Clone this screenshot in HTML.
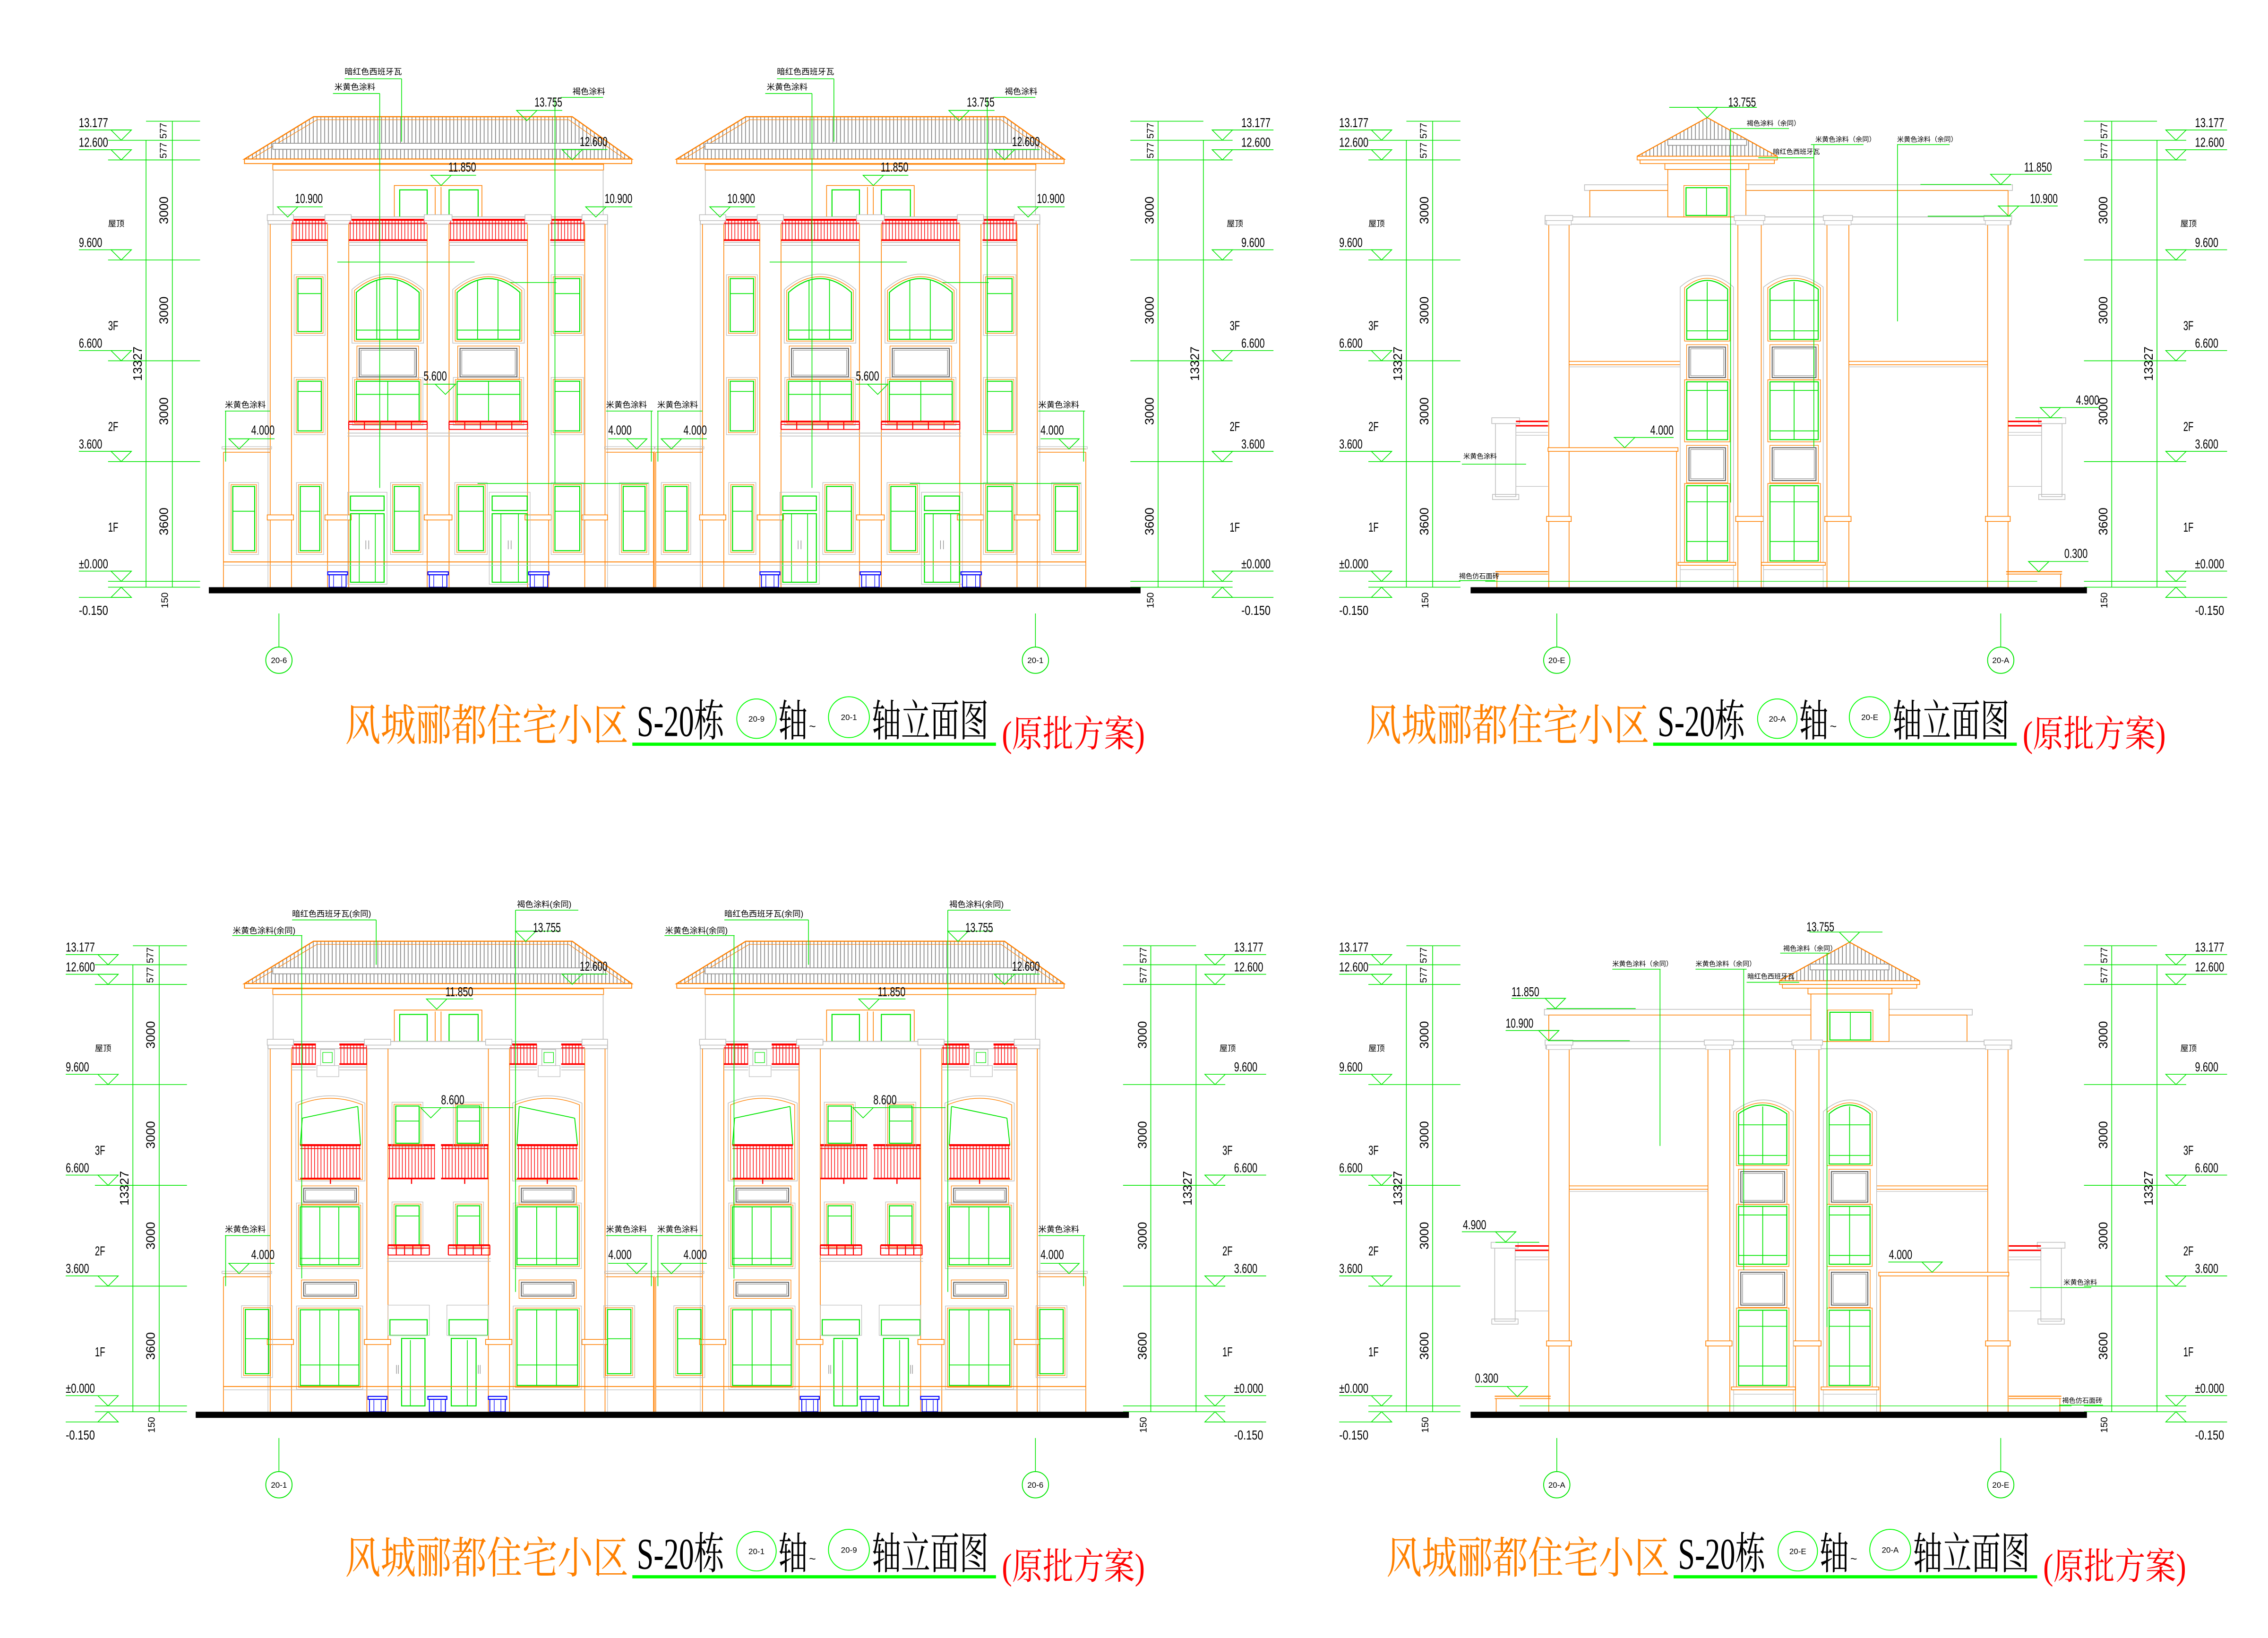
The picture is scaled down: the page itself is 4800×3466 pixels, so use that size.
<!DOCTYPE html>
<html><head><meta charset="utf-8">
<style>
html,body{margin:0;padding:0;background:#fff}
svg{display:block}
text{fill:#000}
.n{font-family:"Liberation Sans",sans-serif;font-size:9px}
.c{font-family:"Liberation Sans","Noto Sans CJK SC",sans-serif;font-size:5.6px}
.c4{font-family:"Liberation Sans","Noto Sans CJK SC",sans-serif;font-size:4.6px}
.d{font-family:"Liberation Sans",sans-serif;font-size:8.5px;text-anchor:middle}
.d6{font-family:"Liberation Sans",sans-serif;font-size:6.5px;text-anchor:middle}
.t{font-family:"Liberation Serif","Noto Serif CJK SC",serif;font-size:30px}
.tr{font-family:"Liberation Serif","Noto Serif CJK SC",serif;font-size:25px}
.ax{font-family:"Liberation Sans",sans-serif;font-size:5.5px;text-anchor:middle}
</style></head><body>
<svg xmlns="http://www.w3.org/2000/svg" width="4800" height="3466" viewBox="0 0 1553 1121.4" preserveAspectRatio="none">
<defs><pattern id="hatch" width="2.6" height="10" patternUnits="userSpaceOnUse"><line x1="1.3" y1="0" x2="1.3" y2="10" stroke="#7a7a7a" stroke-width="0.5"/></pattern></defs>
<rect width="1553" height="1121.4" fill="#fff"/>
<g id="geo"></g>

<!-- ===== DIMENSION TEXT BLOCKS ===== -->
<g transform="translate(54,0)">
<text class="n" x="0" y="87" textLength="20" lengthAdjust="spacingAndGlyphs">13.177</text>
<text class="n" x="0" y="100.5" textLength="20" lengthAdjust="spacingAndGlyphs">12.600</text>
<text class="n" x="0" y="169" textLength="16" lengthAdjust="spacingAndGlyphs">9.600</text>
<text class="n" x="0" y="238" textLength="16" lengthAdjust="spacingAndGlyphs">6.600</text>
<text class="n" x="0" y="307" textLength="16" lengthAdjust="spacingAndGlyphs">3.600</text>
<text class="n" x="0" y="389" textLength="20" lengthAdjust="spacingAndGlyphs">±0.000</text>
<text class="n" x="0" y="421" textLength="20" lengthAdjust="spacingAndGlyphs">-0.150</text>
<text class="c" x="20" y="155">屋顶</text>
<text class="n" x="20" y="226" textLength="7" lengthAdjust="spacingAndGlyphs">3F</text>
<text class="n" x="20" y="295" textLength="7" lengthAdjust="spacingAndGlyphs">2F</text>
<text class="n" x="20" y="364" textLength="7" lengthAdjust="spacingAndGlyphs">1F</text>
<text class="d6" transform="translate(60,89.5) rotate(-90)">577</text>
<text class="d6" transform="translate(60,103) rotate(-90)">577</text>
<text class="d" transform="translate(61,144) rotate(-90)">3000</text>
<text class="d" transform="translate(61,212.5) rotate(-90)">3000</text>
<text class="d" transform="translate(61,281.5) rotate(-90)">3000</text>
<text class="d" transform="translate(61,357) rotate(-90)">3600</text>
<text class="d6" transform="translate(61,411) rotate(-90)">150</text>
<text class="d" transform="translate(43,249) rotate(-90)">13327</text>
</g>
<g transform="translate(850,0)">
<text class="n" x="0" y="87" textLength="20" lengthAdjust="spacingAndGlyphs">13.177</text>
<text class="n" x="0" y="100.5" textLength="20" lengthAdjust="spacingAndGlyphs">12.600</text>
<text class="n" x="0" y="169" textLength="16" lengthAdjust="spacingAndGlyphs">9.600</text>
<text class="n" x="0" y="238" textLength="16" lengthAdjust="spacingAndGlyphs">6.600</text>
<text class="n" x="0" y="307" textLength="16" lengthAdjust="spacingAndGlyphs">3.600</text>
<text class="n" x="0" y="389" textLength="20" lengthAdjust="spacingAndGlyphs">±0.000</text>
<text class="n" x="0" y="421" textLength="20" lengthAdjust="spacingAndGlyphs">-0.150</text>
<text class="c" x="-10" y="155">屋顶</text>
<text class="n" x="-8" y="226" textLength="7" lengthAdjust="spacingAndGlyphs">3F</text>
<text class="n" x="-8" y="295" textLength="7" lengthAdjust="spacingAndGlyphs">2F</text>
<text class="n" x="-8" y="364" textLength="7" lengthAdjust="spacingAndGlyphs">1F</text>
<text class="d6" transform="translate(-60,89.5) rotate(-90)">577</text>
<text class="d6" transform="translate(-60,103) rotate(-90)">577</text>
<text class="d" transform="translate(-60,144) rotate(-90)">3000</text>
<text class="d" transform="translate(-60,212.5) rotate(-90)">3000</text>
<text class="d" transform="translate(-60,281.5) rotate(-90)">3000</text>
<text class="d" transform="translate(-60,357) rotate(-90)">3600</text>
<text class="d6" transform="translate(-60,411) rotate(-90)">150</text>
<text class="d" transform="translate(-29,249) rotate(-90)">13327</text>
</g>
<g transform="translate(917,0)">
<text class="n" x="0" y="87" textLength="20" lengthAdjust="spacingAndGlyphs">13.177</text>
<text class="n" x="0" y="100.5" textLength="20" lengthAdjust="spacingAndGlyphs">12.600</text>
<text class="n" x="0" y="169" textLength="16" lengthAdjust="spacingAndGlyphs">9.600</text>
<text class="n" x="0" y="238" textLength="16" lengthAdjust="spacingAndGlyphs">6.600</text>
<text class="n" x="0" y="307" textLength="16" lengthAdjust="spacingAndGlyphs">3.600</text>
<text class="n" x="0" y="389" textLength="20" lengthAdjust="spacingAndGlyphs">±0.000</text>
<text class="n" x="0" y="421" textLength="20" lengthAdjust="spacingAndGlyphs">-0.150</text>
<text class="c" x="20" y="155">屋顶</text>
<text class="n" x="20" y="226" textLength="7" lengthAdjust="spacingAndGlyphs">3F</text>
<text class="n" x="20" y="295" textLength="7" lengthAdjust="spacingAndGlyphs">2F</text>
<text class="n" x="20" y="364" textLength="7" lengthAdjust="spacingAndGlyphs">1F</text>
<text class="d6" transform="translate(60,89.5) rotate(-90)">577</text>
<text class="d6" transform="translate(60,103) rotate(-90)">577</text>
<text class="d" transform="translate(61,144) rotate(-90)">3000</text>
<text class="d" transform="translate(61,212.5) rotate(-90)">3000</text>
<text class="d" transform="translate(61,281.5) rotate(-90)">3000</text>
<text class="d" transform="translate(61,357) rotate(-90)">3600</text>
<text class="d6" transform="translate(61,411) rotate(-90)">150</text>
<text class="d" transform="translate(43,249) rotate(-90)">13327</text>
</g>
<g transform="translate(1503,0)">
<text class="n" x="0" y="87" textLength="20" lengthAdjust="spacingAndGlyphs">13.177</text>
<text class="n" x="0" y="100.5" textLength="20" lengthAdjust="spacingAndGlyphs">12.600</text>
<text class="n" x="0" y="169" textLength="16" lengthAdjust="spacingAndGlyphs">9.600</text>
<text class="n" x="0" y="238" textLength="16" lengthAdjust="spacingAndGlyphs">6.600</text>
<text class="n" x="0" y="307" textLength="16" lengthAdjust="spacingAndGlyphs">3.600</text>
<text class="n" x="0" y="389" textLength="20" lengthAdjust="spacingAndGlyphs">±0.000</text>
<text class="n" x="0" y="421" textLength="20" lengthAdjust="spacingAndGlyphs">-0.150</text>
<text class="c" x="-10" y="155">屋顶</text>
<text class="n" x="-8" y="226" textLength="7" lengthAdjust="spacingAndGlyphs">3F</text>
<text class="n" x="-8" y="295" textLength="7" lengthAdjust="spacingAndGlyphs">2F</text>
<text class="n" x="-8" y="364" textLength="7" lengthAdjust="spacingAndGlyphs">1F</text>
<text class="d6" transform="translate(-60,89.5) rotate(-90)">577</text>
<text class="d6" transform="translate(-60,103) rotate(-90)">577</text>
<text class="d" transform="translate(-60,144) rotate(-90)">3000</text>
<text class="d" transform="translate(-60,212.5) rotate(-90)">3000</text>
<text class="d" transform="translate(-60,281.5) rotate(-90)">3000</text>
<text class="d" transform="translate(-60,357) rotate(-90)">3600</text>
<text class="d6" transform="translate(-60,411) rotate(-90)">150</text>
<text class="d" transform="translate(-29,249) rotate(-90)">13327</text>
</g>
<!-- bottom panel dims -->
<g transform="translate(45,564.5)">
<text class="n" x="0" y="87" textLength="20" lengthAdjust="spacingAndGlyphs">13.177</text>
<text class="n" x="0" y="100.5" textLength="20" lengthAdjust="spacingAndGlyphs">12.600</text>
<text class="n" x="0" y="169" textLength="16" lengthAdjust="spacingAndGlyphs">9.600</text>
<text class="n" x="0" y="238" textLength="16" lengthAdjust="spacingAndGlyphs">6.600</text>
<text class="n" x="0" y="307" textLength="16" lengthAdjust="spacingAndGlyphs">3.600</text>
<text class="n" x="0" y="389" textLength="20" lengthAdjust="spacingAndGlyphs">±0.000</text>
<text class="n" x="0" y="421" textLength="20" lengthAdjust="spacingAndGlyphs">-0.150</text>
<text class="c" x="20" y="155">屋顶</text>
<text class="n" x="20" y="226" textLength="7" lengthAdjust="spacingAndGlyphs">3F</text>
<text class="n" x="20" y="295" textLength="7" lengthAdjust="spacingAndGlyphs">2F</text>
<text class="n" x="20" y="364" textLength="7" lengthAdjust="spacingAndGlyphs">1F</text>
<text class="d6" transform="translate(60,89.5) rotate(-90)">577</text>
<text class="d6" transform="translate(60,103) rotate(-90)">577</text>
<text class="d" transform="translate(61,144) rotate(-90)">3000</text>
<text class="d" transform="translate(61,212.5) rotate(-90)">3000</text>
<text class="d" transform="translate(61,281.5) rotate(-90)">3000</text>
<text class="d" transform="translate(61,357) rotate(-90)">3600</text>
<text class="d6" transform="translate(61,411) rotate(-90)">150</text>
<text class="d" transform="translate(43,249) rotate(-90)">13327</text>
</g>
<g transform="translate(845,564.5)">
<text class="n" x="0" y="87" textLength="20" lengthAdjust="spacingAndGlyphs">13.177</text>
<text class="n" x="0" y="100.5" textLength="20" lengthAdjust="spacingAndGlyphs">12.600</text>
<text class="n" x="0" y="169" textLength="16" lengthAdjust="spacingAndGlyphs">9.600</text>
<text class="n" x="0" y="238" textLength="16" lengthAdjust="spacingAndGlyphs">6.600</text>
<text class="n" x="0" y="307" textLength="16" lengthAdjust="spacingAndGlyphs">3.600</text>
<text class="n" x="0" y="389" textLength="20" lengthAdjust="spacingAndGlyphs">±0.000</text>
<text class="n" x="0" y="421" textLength="20" lengthAdjust="spacingAndGlyphs">-0.150</text>
<text class="c" x="-10" y="155">屋顶</text>
<text class="n" x="-8" y="226" textLength="7" lengthAdjust="spacingAndGlyphs">3F</text>
<text class="n" x="-8" y="295" textLength="7" lengthAdjust="spacingAndGlyphs">2F</text>
<text class="n" x="-8" y="364" textLength="7" lengthAdjust="spacingAndGlyphs">1F</text>
<text class="d6" transform="translate(-60,89.5) rotate(-90)">577</text>
<text class="d6" transform="translate(-60,103) rotate(-90)">577</text>
<text class="d" transform="translate(-60,144) rotate(-90)">3000</text>
<text class="d" transform="translate(-60,212.5) rotate(-90)">3000</text>
<text class="d" transform="translate(-60,281.5) rotate(-90)">3000</text>
<text class="d" transform="translate(-60,357) rotate(-90)">3600</text>
<text class="d6" transform="translate(-60,411) rotate(-90)">150</text>
<text class="d" transform="translate(-29,249) rotate(-90)">13327</text>
</g>
<g transform="translate(917,564.5)">
<text class="n" x="0" y="87" textLength="20" lengthAdjust="spacingAndGlyphs">13.177</text>
<text class="n" x="0" y="100.5" textLength="20" lengthAdjust="spacingAndGlyphs">12.600</text>
<text class="n" x="0" y="169" textLength="16" lengthAdjust="spacingAndGlyphs">9.600</text>
<text class="n" x="0" y="238" textLength="16" lengthAdjust="spacingAndGlyphs">6.600</text>
<text class="n" x="0" y="307" textLength="16" lengthAdjust="spacingAndGlyphs">3.600</text>
<text class="n" x="0" y="389" textLength="20" lengthAdjust="spacingAndGlyphs">±0.000</text>
<text class="n" x="0" y="421" textLength="20" lengthAdjust="spacingAndGlyphs">-0.150</text>
<text class="c" x="20" y="155">屋顶</text>
<text class="n" x="20" y="226" textLength="7" lengthAdjust="spacingAndGlyphs">3F</text>
<text class="n" x="20" y="295" textLength="7" lengthAdjust="spacingAndGlyphs">2F</text>
<text class="n" x="20" y="364" textLength="7" lengthAdjust="spacingAndGlyphs">1F</text>
<text class="d6" transform="translate(60,89.5) rotate(-90)">577</text>
<text class="d6" transform="translate(60,103) rotate(-90)">577</text>
<text class="d" transform="translate(61,144) rotate(-90)">3000</text>
<text class="d" transform="translate(61,212.5) rotate(-90)">3000</text>
<text class="d" transform="translate(61,281.5) rotate(-90)">3000</text>
<text class="d" transform="translate(61,357) rotate(-90)">3600</text>
<text class="d6" transform="translate(61,411) rotate(-90)">150</text>
<text class="d" transform="translate(43,249) rotate(-90)">13327</text>
</g>
<g transform="translate(1503,564.5)">
<text class="n" x="0" y="87" textLength="20" lengthAdjust="spacingAndGlyphs">13.177</text>
<text class="n" x="0" y="100.5" textLength="20" lengthAdjust="spacingAndGlyphs">12.600</text>
<text class="n" x="0" y="169" textLength="16" lengthAdjust="spacingAndGlyphs">9.600</text>
<text class="n" x="0" y="238" textLength="16" lengthAdjust="spacingAndGlyphs">6.600</text>
<text class="n" x="0" y="307" textLength="16" lengthAdjust="spacingAndGlyphs">3.600</text>
<text class="n" x="0" y="389" textLength="20" lengthAdjust="spacingAndGlyphs">±0.000</text>
<text class="n" x="0" y="421" textLength="20" lengthAdjust="spacingAndGlyphs">-0.150</text>
<text class="c" x="-10" y="155">屋顶</text>
<text class="n" x="-8" y="226" textLength="7" lengthAdjust="spacingAndGlyphs">3F</text>
<text class="n" x="-8" y="295" textLength="7" lengthAdjust="spacingAndGlyphs">2F</text>
<text class="n" x="-8" y="364" textLength="7" lengthAdjust="spacingAndGlyphs">1F</text>
<text class="d6" transform="translate(-60,89.5) rotate(-90)">577</text>
<text class="d6" transform="translate(-60,103) rotate(-90)">577</text>
<text class="d" transform="translate(-60,144) rotate(-90)">3000</text>
<text class="d" transform="translate(-60,212.5) rotate(-90)">3000</text>
<text class="d" transform="translate(-60,281.5) rotate(-90)">3000</text>
<text class="d" transform="translate(-60,357) rotate(-90)">3600</text>
<text class="d6" transform="translate(-60,411) rotate(-90)">150</text>
<text class="d" transform="translate(-29,249) rotate(-90)">13327</text>
</g>

<!-- ===== FRONT (TL) unit labels ===== -->
<g transform="translate(0,0)">
<text class="c" x="236" y="51">暗红色西班牙瓦</text><text class="c" x="229" y="61.5">米黄色涂料</text><text class="c" x="392" y="64.5">褐色涂料</text>
<text class="n" x="366" y="73" textLength="19" lengthAdjust="spacingAndGlyphs">13.755</text>
<text class="n" x="397" y="100" textLength="19" lengthAdjust="spacingAndGlyphs">12.600</text>
<text class="n" x="307" y="117.5" textLength="19" lengthAdjust="spacingAndGlyphs">11.850</text>
<text class="n" x="202" y="139" textLength="19" lengthAdjust="spacingAndGlyphs">10.900</text>
<text class="n" x="414" y="139" textLength="19" lengthAdjust="spacingAndGlyphs">10.900</text>
<text class="n" x="290" y="260.5" textLength="16" lengthAdjust="spacingAndGlyphs">5.600</text>
<text class="n" x="172" y="297.5" textLength="16" lengthAdjust="spacingAndGlyphs">4.000</text>
<text class="n" x="416.5" y="297.5" textLength="16" lengthAdjust="spacingAndGlyphs">4.000</text>
<text class="c" x="154" y="279">米黄色涂料</text><text class="c" x="415" y="279">米黄色涂料</text>
</g>
<g transform="translate(296,0)">
<text class="c" x="236" y="51">暗红色西班牙瓦</text><text class="c" x="229" y="61.5">米黄色涂料</text><text class="c" x="392" y="64.5">褐色涂料</text>
<text class="n" x="366" y="73" textLength="19" lengthAdjust="spacingAndGlyphs">13.755</text>
<text class="n" x="397" y="100" textLength="19" lengthAdjust="spacingAndGlyphs">12.600</text>
<text class="n" x="307" y="117.5" textLength="19" lengthAdjust="spacingAndGlyphs">11.850</text>
<text class="n" x="202" y="139" textLength="19" lengthAdjust="spacingAndGlyphs">10.900</text>
<text class="n" x="414" y="139" textLength="19" lengthAdjust="spacingAndGlyphs">10.900</text>
<text class="n" x="290" y="260.5" textLength="16" lengthAdjust="spacingAndGlyphs">5.600</text>
<text class="n" x="172" y="297.5" textLength="16" lengthAdjust="spacingAndGlyphs">4.000</text>
<text class="n" x="416.5" y="297.5" textLength="16" lengthAdjust="spacingAndGlyphs">4.000</text>
<text class="c" x="154" y="279">米黄色涂料</text><text class="c" x="415" y="279">米黄色涂料</text>
</g>

<!-- ===== REAR (BL) unit labels ===== -->
<g transform="translate(0,564.5)">
<text class="c" x="200" y="63" font-size="5.2">暗红色西班牙瓦(余同)</text><text class="c" x="159.4" y="74.5" font-size="5.2">米黄色涂料(余同)</text><text class="c" x="354" y="56.5" font-size="5.2">褐色涂料(余同)</text>
<text class="n" x="365" y="73.5" textLength="19" lengthAdjust="spacingAndGlyphs">13.755</text>
<text class="n" x="397" y="100" textLength="19" lengthAdjust="spacingAndGlyphs">12.600</text>
<text class="n" x="305" y="117.5" textLength="19" lengthAdjust="spacingAndGlyphs">11.850</text>
<text class="n" x="302" y="191.5" textLength="16" lengthAdjust="spacingAndGlyphs">8.600</text>
<text class="n" x="172" y="297.5" textLength="16" lengthAdjust="spacingAndGlyphs">4.000</text>
<text class="n" x="416.5" y="297.5" textLength="16" lengthAdjust="spacingAndGlyphs">4.000</text>
<text class="c" x="154" y="279">米黄色涂料</text><text class="c" x="415" y="279">米黄色涂料</text>
</g>
<g transform="translate(296,564.5)">
<text class="c" x="200" y="63" font-size="5.2">暗红色西班牙瓦(余同)</text><text class="c" x="159.4" y="74.5" font-size="5.2">米黄色涂料(余同)</text><text class="c" x="354" y="56.5" font-size="5.2">褐色涂料(余同)</text>
<text class="n" x="365" y="73.5" textLength="19" lengthAdjust="spacingAndGlyphs">13.755</text>
<text class="n" x="397" y="100" textLength="19" lengthAdjust="spacingAndGlyphs">12.600</text>
<text class="n" x="305" y="117.5" textLength="19" lengthAdjust="spacingAndGlyphs">11.850</text>
<text class="n" x="302" y="191.5" textLength="16" lengthAdjust="spacingAndGlyphs">8.600</text>
<text class="n" x="172" y="297.5" textLength="16" lengthAdjust="spacingAndGlyphs">4.000</text>
<text class="n" x="416.5" y="297.5" textLength="16" lengthAdjust="spacingAndGlyphs">4.000</text>
<text class="c" x="154" y="279">米黄色涂料</text><text class="c" x="415" y="279">米黄色涂料</text>
</g>

<!-- ===== SIDE (TR) labels ===== -->
<g>
<text class="n" x="1183.4" y="73" textLength="19" lengthAdjust="spacingAndGlyphs">13.755</text>
<text class="c4" x="1196" y="86">褐色涂料（余同）</text>
<text class="c4" x="1243" y="97">米黄色涂料（余同）</text>
<text class="c4" x="1299" y="97">米黄色涂料（余同）</text>
<text class="c4" x="1214" y="105.5">暗红色西班牙瓦</text>
<text class="n" x="1386" y="117.5" textLength="19" lengthAdjust="spacingAndGlyphs">11.850</text>
<text class="n" x="1390" y="139" textLength="19" lengthAdjust="spacingAndGlyphs">10.900</text>
<text class="n" x="1130" y="297.5" textLength="16" lengthAdjust="spacingAndGlyphs">4.000</text>
<text class="n" x="1421.5" y="277" textLength="16" lengthAdjust="spacingAndGlyphs">4.900</text>
<text class="n" x="1413.5" y="382" textLength="16" lengthAdjust="spacingAndGlyphs">0.300</text>
<text class="c4" x="1002" y="314">米黄色涂料</text>
<text class="c4" x="999" y="396">褐色仿石面砖</text>
</g>
<!-- ===== SIDE (BR) labels ===== -->
<g transform="translate(0,564.5)">
<text class="n" x="1237" y="73" textLength="19" lengthAdjust="spacingAndGlyphs">13.755</text>
<text class="c4" x="1221" y="86.5">褐色涂料（余同）</text>
<text class="c4" x="1104" y="97">米黄色涂料（余同）</text>
<text class="c4" x="1161" y="97">米黄色涂料（余同）</text>
<text class="c4" x="1196.5" y="105.5">暗红色西班牙瓦</text>
<text class="n" x="1035" y="117.5" textLength="19" lengthAdjust="spacingAndGlyphs">11.850</text>
<text class="n" x="1031" y="139" textLength="19" lengthAdjust="spacingAndGlyphs">10.900</text>
<text class="n" x="1001.7" y="277" textLength="16" lengthAdjust="spacingAndGlyphs">4.900</text>
<text class="n" x="1293.4" y="297.5" textLength="16" lengthAdjust="spacingAndGlyphs">4.000</text>
<text class="n" x="1010" y="382" textLength="16" lengthAdjust="spacingAndGlyphs">0.300</text>
<text class="c4" x="1413" y="315">米黄色涂料</text>
<text class="c4" x="1412" y="396">褐色仿石面砖</text>
</g>

<!-- ===== AXIS BUBBLE TEXT ===== -->
<text class="ax" x="191" y="454">20-6</text>
<text class="ax" x="709" y="454">20-1</text>
<text class="ax" x="1066" y="454">20-E</text>
<text class="ax" x="1370" y="454">20-A</text>
<text class="ax" x="191" y="1018.5">20-1</text>
<text class="ax" x="709" y="1018.5">20-6</text>
<text class="ax" x="1066" y="1018.5">20-A</text>
<text class="ax" x="1370" y="1018.5">20-E</text>

<!-- ===== TITLES ===== -->
<g transform="translate(0,0)">
<text class="t" x="236.3" y="507" fill="#ff8000" style="fill:#ff8000" textLength="194" lengthAdjust="spacingAndGlyphs">风城郦都住宅小区</text>
<text class="t" x="436" y="504" textLength="60" lengthAdjust="spacingAndGlyphs">S-20栋</text>
<circle cx="518" cy="492" r="13.5" fill="none" stroke="#00ff00" stroke-width="0.6"/>
<text class="ax" x="518" y="494">20-9</text>
<text class="t" x="533" y="504" textLength="20" lengthAdjust="spacingAndGlyphs">轴</text>
<text x="554" y="500" font-size="8" font-family="Liberation Sans">~</text>
<circle cx="581.3" cy="491" r="14" fill="none" stroke="#00ff00" stroke-width="0.6"/>
<text class="ax" x="581.3" y="493">20-1</text>
<text class="t" x="597" y="504" textLength="80" lengthAdjust="spacingAndGlyphs">轴立面图</text>
<rect x="433" y="508.4" width="249" height="2.2" fill="#00ff00"/>
<text class="tr" x="686" y="511" style="fill:#ff0000" textLength="98" lengthAdjust="spacingAndGlyphs">(原批方案)</text>
</g>
<g transform="translate(699,0)">
<text class="t" x="236.3" y="507" style="fill:#ff8000" textLength="194" lengthAdjust="spacingAndGlyphs">风城郦都住宅小区</text>
<text class="t" x="436" y="504" textLength="60" lengthAdjust="spacingAndGlyphs">S-20栋</text>
<circle cx="518" cy="492" r="13.5" fill="none" stroke="#00ff00" stroke-width="0.6"/>
<text class="ax" x="518" y="494">20-A</text>
<text class="t" x="533" y="504" textLength="20" lengthAdjust="spacingAndGlyphs">轴</text>
<text x="554" y="500" font-size="8" font-family="Liberation Sans">~</text>
<circle cx="581.3" cy="491" r="14" fill="none" stroke="#00ff00" stroke-width="0.6"/>
<text class="ax" x="581.3" y="493">20-E</text>
<text class="t" x="597" y="504" textLength="80" lengthAdjust="spacingAndGlyphs">轴立面图</text>
<rect x="433" y="508.4" width="249" height="2.2" fill="#00ff00"/>
<text class="tr" x="686" y="511" style="fill:#ff0000" textLength="98" lengthAdjust="spacingAndGlyphs">(原批方案)</text>
</g>
<g transform="translate(0,570)">
<text class="t" x="236.3" y="507" style="fill:#ff8000" textLength="194" lengthAdjust="spacingAndGlyphs">风城郦都住宅小区</text>
<text class="t" x="436" y="504" textLength="60" lengthAdjust="spacingAndGlyphs">S-20栋</text>
<circle cx="518" cy="492" r="13.5" fill="none" stroke="#00ff00" stroke-width="0.6"/>
<text class="ax" x="518" y="494">20-1</text>
<text class="t" x="533" y="504" textLength="20" lengthAdjust="spacingAndGlyphs">轴</text>
<text x="554" y="500" font-size="8" font-family="Liberation Sans">~</text>
<circle cx="581.3" cy="491" r="14" fill="none" stroke="#00ff00" stroke-width="0.6"/>
<text class="ax" x="581.3" y="493">20-9</text>
<text class="t" x="597" y="504" textLength="80" lengthAdjust="spacingAndGlyphs">轴立面图</text>
<rect x="433" y="508.4" width="249" height="2.2" fill="#00ff00"/>
<text class="tr" x="686" y="511" style="fill:#ff0000" textLength="98" lengthAdjust="spacingAndGlyphs">(原批方案)</text>
</g>
<g transform="translate(713,570)">
<text class="t" x="236.3" y="507" style="fill:#ff8000" textLength="194" lengthAdjust="spacingAndGlyphs">风城郦都住宅小区</text>
<text class="t" x="436" y="504" textLength="60" lengthAdjust="spacingAndGlyphs">S-20栋</text>
<circle cx="518" cy="492" r="13.5" fill="none" stroke="#00ff00" stroke-width="0.6"/>
<text class="ax" x="518" y="494">20-E</text>
<text class="t" x="533" y="504" textLength="20" lengthAdjust="spacingAndGlyphs">轴</text>
<text x="554" y="500" font-size="8" font-family="Liberation Sans">~</text>
<circle cx="581.3" cy="491" r="14" fill="none" stroke="#00ff00" stroke-width="0.6"/>
<text class="ax" x="581.3" y="493">20-A</text>
<text class="t" x="597" y="504" textLength="80" lengthAdjust="spacingAndGlyphs">轴立面图</text>
<rect x="433" y="508.4" width="249" height="2.2" fill="#00ff00"/>
<text class="tr" x="686" y="511" style="fill:#ff0000" textLength="98" lengthAdjust="spacingAndGlyphs">(原批方案)</text>
</g>
</svg>
<script>
(function(){
var out='';
var O='#ff8000',G='#00e600',RD='#ff0000',GY='#bdbdbd',BL='#0000ff';
function ln(x1,y1,x2,y2,c,w){out+='<line x1="'+x1+'" y1="'+y1+'" x2="'+x2+'" y2="'+y2+'" stroke="'+c+'" stroke-width="'+(w||0.5)+'"/>';}
function rc(x1,y1,x2,y2,c,w,f){out+='<rect x="'+x1+'" y="'+y1+'" width="'+(x2-x1)+'" height="'+(y2-y1)+'" fill="'+(f||'none')+'" stroke="'+c+'" stroke-width="'+(w||0.5)+'"/>';}
function pth(d,c,w,f){out+='<path d="'+d+'" fill="'+(f||'none')+'" stroke="'+c+'" stroke-width="'+(w||0.5)+'"/>';}
function g(t){out+='<g transform="'+t+'">';} function ge(){out+='</g>';}
function tri(ax,ay,up){ if(!up) pth('M'+(ax-7)+' '+(ay-7)+'L'+(ax+7)+' '+(ay-7)+'L'+ax+' '+ay+'Z',G,0.5); else pth('M'+(ax-7)+' '+(ay+7)+'L'+(ax+7)+' '+(ay+7)+'L'+ax+' '+ay+'Z',G,0.5);}
function mark(ax,ay,x1,x2){tri(ax,ay);ln(Math.min(x1,ax-7),ay-7,Math.max(x2,ax+7),ay-7,G);}
var TK=[83,96,109.5,178,247,316,398,402],AY=[96,109.5,178,247,316,398];
function dimsL(xl,oy){g('translate('+xl+','+oy+')');
 TK.forEach(function(y){ln(y==83?46:20,y,83,y,G);});
 ln(46,96,46,402,G);ln(64,83,64,402,G);
 AY.forEach(function(a){mark(29,a,0,36);});tri(29,402,true);ln(0,409,36,409,G);ge();}
function dimsR(xr,oy){g('translate('+xr+','+oy+')');
 TK.forEach(function(y){ln(-76,y,y==83?-26:-6,y,G);});
 ln(-57,83,-57,402,G);ln(-26,96,-26,402,G);
 AY.forEach(function(a){mark(-13,a,-20,22);});tri(-13,402,true);ln(-20,409,22,409,G);ge();}
function axis(x,y){ln(x,y-32,x,y-9,G);out+='<circle cx="'+x+'" cy="'+y+'" r="9" fill="none" stroke="'+G+'" stroke-width="0.6"/>';}
function win(x1,y1,x2,y2,v,h){rc(x1-2.6,y1-2.6,x2+2.6,y2+2.6,GY,.4);rc(x1-1.2,y1-1.2,x2+1.2,y2+1.2,O,.4);rc(x1,y1,x2,y2,G,.7);
 (v||[]).forEach(function(x){ln(x,y1,x,y2,G,.55);});(h||[]).forEach(function(y){ln(x1,y,x2,y,G,.55);});}
function archP(x1,y1,x2,y2,k){var m=(x1+x2)/2;return 'M'+x1+' '+y2+'V'+(y1+k)+'Q'+m+' '+(y1-k)+' '+x2+' '+(y1+k)+'V'+y2+'Z';}
function arch(x1,y1,x2,y2,v,h){var k=(x2-x1)*0.22;pth(archP(x1-3,y1-3,x2+3,y2+2.6,k+1),GY,.45);pth(archP(x1-1.3,y1-1.3,x2+1.3,y2+1.2,k),O,.45);pth(archP(x1,y1,x2,y2,k),G,.7);
 (v||[]).forEach(function(x){ln(x,y1+1,x,y2,G,.55);});(h||[]).forEach(function(y){ln(x1,y,x2,y,G,.55);});}
function gbox(x1,y1,x2,y2){rc(x1-1.6,y1-1.6,x2+1.6,y2+1.6,O,.4);rc(x1,y1,x2,y2,'#555',.6,'#fff');rc(x1+1.2,y1+1.2,x2-1.2,y2-1.2,'#888',.4);}
function rail(x1,x2,y1,y2){for(var x=x1+1;x<x2;x+=2.2)ln(x,y1,x,y2,RD,.45);ln(x1,y1,x2,y1,RD,1.4);ln(x1,y1+2.3,x2,y1+2.3,RD,.6);ln(x1,y2,x2,y2,RD,1.1);}
function rail2(x1,x2,y1,y2){var n=5;for(var i=0;i<=n;i++){var x=x1+(x2-x1)*i/n;ln(x,y1,x,y2,RD,.7);}ln(x1,y1,x2,y1,RD,1.2);ln(x1,y1+2,x2,y1+2,RD,.5);ln(x1,y2,x2,y2,RD,.6);}
function blue(a,b){rc(a,393.5,b,402,BL,.6);rc(a-1,391.5,b+1,393.5,BL,.7);ln(a+3,394,a+3,402,BL,.4);ln(b-3,394,b-3,402,BL,.4);}
function roof(){pth('M167.4 108.9L214.7 79.9L391.8 79.9L432.6 108.9Z',O,.8,'url(#hatch)');
 pth('M172 108.9L217 82L389.5 82L428 108.9',O,.4);
 rc(186.8,98.1,413,102.2,'#888',.5,'#fff');rc(167.4,108.9,432.6,112,O,.6,'#fff');rc(186.8,112.5,413.3,116.4,O,.5,'#fff');}
function gable(ax){pth('M'+(ax-48)+' 107L'+ax+' 80.5L'+(ax+48)+' 107Z',O,.7,'url(#hatch)');
 rc(ax-27,95.5,ax+27,99.5,'#888',.5,'#fff');rc(ax-48,107,ax+48,109.5,O,.5,'#fff');rc(ax-46,109.5,ax+46,112,O,.5,'#fff');}
function wings(wl,wr){
 [[153,185],[415,447.5]].forEach(function(p){ln(p[0],307.4,p[1],307.4,O,.6);ln(p[0],309.6,p[1],309.6,O,.5);rc(p[0]-1,305.8,p[1]+1,307.4,GY,.4);});
 ln(153,309.6,153,402,O);ln(447.5,309.6,447.5,402,O);
 ln(153,384.7,447.5,384.7,O,.6);ln(153,387,447.5,387,GY,.4);
 win(wl[0],wl[1],wl[2],wl[3],[],[wl[4]]);win(wr[0],wr[1],wr[2],wr[3],[],[wr[4]]);}
function upper(){ln(187,116.4,187,148.5,GY);ln(413,116.4,413,148.5,GY);
 rc(270,127,330,148.5,O,.5);rc(273.7,130,292.5,148.5,G,.7);rc(307.5,130,327.4,148.5,G,.7);ln(298,128,298,148.5,O);ln(302,128,302,148.5,O);
 rc(183.5,148.5,416,153.5,GY,.6,'#fff');ln(183.5,153.5,183.5,402,GY,.4);ln(416,153.5,416,402,GY,.4);}
function frontA(){roof();upper();
 [185,199.6,224.3,238.8,292.5,307.5,361.2,375.7,400.4,414.3].forEach(function(x){ln(x,153.5,x,402,O);});
 [[199.6,224.3],[238.8,292.5],[307.5,361.2],[376.8,400.4]].forEach(function(p){rail(p[0],p[1],150.5,164.4);ln(p[0],166,p[1],166,GY);ln(p[0],168,p[1],168,GY);});
 [[183,201],[222.5,240.5],[290.5,309.5],[359.5,377.5],[398.5,416]].forEach(function(p){rc(p[0],147,p[1],151,GY,.5,'#fff');rc(p[0],352.5,p[1],356,O,.5,'#fff');});
 win(204,190.7,220,227,[],[201]);win(380,190.7,397,227,[],[201]);
 arch(244,190.7,287,232.3,[258,272],[226]);arch(313,190.7,356,232.3,[327,341],[226]);
 gbox(246,238.5,285,258);gbox(315,238.5,354,258);
 win(244,261,287,288.6,[265.5],[270]);win(313,261,356,288.6,[334.5],[270]);
 win(204,261,220,295,[],[268]);win(380,261,397,295,[],[268]);
 rail2(238.8,292.5,288.6,294);rail2(307.5,361.2,288.6,294);ln(238,296.5,362,296.5,GY);ln(238,298.5,362,298.5,GY);
 win(205.6,333,219,377,[],[350]);win(270,333,287,377,[],[350]);win(314,333,331,377,[],[350]);win(380,333,397,377,[],[350]);
 [[240,263],[337,361]].forEach(function(p){rc(p[0],339.6,p[1],349.5,G,.7);rc(p[0],351.7,p[1],398.6,G,.7);ln(p[0]+6,352,p[0]+6,398.6,G,.5);ln(p[1]-6,352,p[1]-6,398.6,G,.5);
   ln((p[0]+p[1])/2-1,370,(p[0]+p[1])/2-1,376,'#888',.4);ln((p[0]+p[1])/2+1,370,(p[0]+p[1])/2+1,376,'#888',.4);rc(p[0]-2,337,p[1]+2,400,GY,.4);});
 blue(225.4,237);blue(294,306);blue(363,375);
 wings([159.4,333,174.4,377,350],[426.7,333,441.7,377,350]);
 // leaders
 ln(236,53.9,275,53.9,G);ln(275,53.9,275,97,G);ln(228,64,260,64,G);ln(260,64,260,334,G);
 ln(384,66.7,413,66.7,G);ln(380,66.7,380,331,G);ln(327,331,444,331,G);
 ln(231,179.4,325,179.4,G);ln(349,193.4,381,193.4,G);
 mark(360.7,82.6,366,385);mark(391.8,109.4,397,416);mark(302,127,307,326);mark(197,148.6,202,221);mark(408,148.6,414,433);
 mark(305,270,290,306);mark(163.7,307.4,172,188);mark(436,307.4,416.5,433);
 ln(154,281.4,185,281.4,G);ln(154.5,281.4,154.5,316,G);ln(415,281.4,447,281.4,G);ln(446,281.4,446,316,G);}
function frontB(){roof();upper();
 [185,199.6,251.2,265.7,334.4,348.9,400.4,414.3].forEach(function(x){ln(x,153.5,x,402,O);});
 [[199.6,216.3],[232.4,251.2],[348.9,367.6],[384.3,400.4]].forEach(function(p){rail(p[0],p[1],150.6,164);ln(p[0],166,p[1],166,GY);ln(p[0],168,p[1],168,GY);});
 rc(219.5,154,229,165,GY,.5);rc(221,156,227.5,163,G,.4);rc(371,154,380.5,165,GY,.5);rc(372.5,156,379,163,G,.4);
 rc(217,165,232,172.6,GY,.4);rc(368.5,165,383.5,172.6,GY,.4);
 [[183,201],[249.5,267.5],[332.5,350.5],[398.5,416]].forEach(function(p){rc(p[0],147,p[1],151,GY,.5,'#fff');rc(p[0],352.5,p[1],356,O,.5,'#fff');});
 [[205.6,246.9],[354,395.5]].forEach(function(p){pth(archP(p[0]-3,185.7,p[1]+3,244,5),GY,.45);pth(archP(p[0]-1.3,187.4,p[1]+1.3,243,4.5),O,.45);});
 ln(207,201,245,193,G,.6);ln(207,201,205.6,219.5,G,.6);ln(245,193,246.9,219.5,G,.6);
 ln(355.5,193,393.5,201,G,.6);ln(355.5,193,354,219.5,G,.6);ln(393.5,201,395.5,219.5,G,.6);
 [[205.6,246.9],[265.7,297.9],[302,334.4],[354,395.5]].forEach(function(p){rail(p[0],p[1],219.5,242.3);ln((p[0]+p[1])/2,242.3,(p[0]+p[1])/2,246,RD,.8);});
 win(271,192.7,287,218.2,[],[203]);win(313,192.7,328.5,218.2,[],[203]);
 gbox(208,249,244,258.4);gbox(357,249,393,258.4);gbox(208,313.4,244,322.8);gbox(357,313.4,393,322.8);
 win(205.6,261.7,245.8,301.4,[219,232],[297]);win(354,261.7,395.5,301.4,[367.5,381],[297]);
 win(271,261,287,288,[],[268]);win(313,261,328.5,288,[],[268]);
 rail2(265.7,294,288,294.7);rail2(307,335.4,288,294.7);ln(265,297,336,297,GY);ln(265,299,336,299,GY);
 win(205.6,332.2,245.8,384,[219,232],[370]);win(354,332.2,395.5,384,[367.5,381],[370]);
 rc(267,339,292.5,349.7,G,.7);rc(275,351.8,291,398,G,.7);ln(281,353,281,398,G,.5);rc(265.7,329,294,349.7,GY,.4);
 rc(307.5,339,334,349.7,G,.7);rc(309,351.8,326,398,G,.7);ln(320,353,320,398,G,.5);rc(306,329,334.4,349.7,GY,.4);
 ln(271.5,370,271.5,376,'#888',.4);ln(272.8,370,272.8,376,'#888',.4);ln(327.5,370,327.5,376,'#888',.4);ln(328.8,370,328.8,376,'#888',.4);
 blue(253,264);blue(294,305);blue(335.4,346);
 wings([168,332,184,376,352],[416,332,432,376,352]);
 // leaders
 ln(200,65.3,257.6,65.3,G);ln(257.6,65.3,257.6,96,G);ln(159,76,207,76,G);ln(206.6,76,206.6,310.8,G);
 ln(353,58.6,396,58.6,G);ln(353,58.6,353,320,G);
 mark(360,80,365,384);mark(391.8,109.4,397,416);mark(299,126.4,305,324);mark(295,200.8,288,320);ln(320,193.8,351.5,193.8,G);
 mark(163.7,307.4,172,188);mark(436,307.4,416.5,433);
 ln(154,281.4,185,281.4,G);ln(154.5,281.4,154.5,316,G);ln(415,281.4,447,281.4,G);ln(446,281.4,446,316,G);}
function col(o1,o2,i1,i2){var m=(i1+i2)/2;
 pth(archP(o1,188.5,o2,385,8),GY,.45);ln(o1,385,o1,402,GY,.4);ln(o2,385,o2,402,GY,.4);
 pth(archP(i1-1.5,190.5,i2+1.5,233.5,6.5),O,.45);pth(archP(i1,192,i2,232.4,6),G,.7);ln(m,193,m,232.4,G,.55);ln(i1,205.6,i2,205.6,G,.55);ln(i1,226.5,i2,226.5,G,.55);
 gbox(i1+1.5,237.6,i2-1.5,258.5);
 rc(i1-1.5,260,i2+1.5,302.5,O,.45);rc(i1,261.4,i2,301,G,.7);ln(m,261.4,m,301,G,.55);ln(i1,267.3,i2,267.3,G,.55);ln(i1,295,i2,295,G,.55);
 gbox(i1+1.5,306.5,i2-1.5,329);
 rc(i1-1.5,331,i2+1.5,385.5,O,.45);rc(i1,332.5,i2,384,G,.7);ln(m,332.5,m,384,G,.55);ln(i1,343.5,i2,343.5,G,.55);ln(i1,370.7,i2,370.7,G,.55);
 rc(o1-1.5,385,o2+1.5,387,O,.5,'#fff');ln(o1,390,o2,390,GY,.4);}
function side(){
 rc(1058,148.5,1377,153.5,GY,.6,'#fff');
 rc(1085,126.5,1378,130.4,GY,.5,'#fff');ln(1088.6,130.4,1375,130.4,O);ln(1088.6,130.4,1088.6,148.5,O);ln(1375,130.4,1375,148.5,O);
 rc(1142,116,1195.5,148.5,O,.5,'#fff');rc(1140,112,1197.5,116,O,.5,'#fff');
 rc(1153,127,1184,148.5,O,.4);rc(1154.5,128.5,1182.5,147.5,G,.7);ln(1168.5,128.5,1168.5,147.5,G);
 gable(1169);
 [[1060.5,1074.4],[1190,1206],[1251,1266],[1361,1375]].forEach(function(p){ln(p[0],154,p[0],402,O);ln(p[1],154,p[1],402,O);
   rc(p[0]-2.5,147.5,p[1]+2.5,151,GY,.5,'#fff');rc(p[0]-1.5,151,p[1]+1.5,154,GY,.4,'#fff');rc(p[0]-1.5,353.5,p[1]+1.5,357,O,.5,'#fff');});
 ln(1074.4,247.4,1150.5,247.4,O);ln(1074.4,249.7,1150.5,249.7,O);ln(1074.4,251.2,1150.5,251.2,GY,.4);
 ln(1266,247.4,1361,247.4,O);ln(1266,249.7,1361,249.7,O);ln(1266,251.2,1361,251.2,GY,.4);
 col(1150.5,1187,1155,1183);col(1207.6,1248.4,1212,1245);
 rc(1060,306.5,1149,309,O,.5,'#fff');ln(1148,309,1148,402,O);
 // balconies
 rc(1024,290,1038,340,GY,.5);rc(1021.5,286,1040.5,290,GY,.5,'#fff');rc(1022,338.5,1040,342,GY,.5);
 ln(1038,288.5,1060,288.5,RD,1);ln(1038,291.5,1060,291.5,RD,1);ln(1038,296,1060,296,GY,.4);ln(1038,298,1060,298,GY,.4);ln(1038,333,1060,333,GY,.4);
 rc(1398,290,1412,340,GY,.5);rc(1396,286,1414.5,290,GY,.5,'#fff');rc(1396,338.5,1414,342,GY,.5);
 ln(1375,288.5,1398,288.5,RD,1);ln(1375,291.5,1398,291.5,RD,1);ln(1375,296,1398,296,GY,.4);ln(1375,298,1398,298,GY,.4);ln(1375,333,1398,333,GY,.4);
 // steps
 ln(1024,391.4,1060,391.4,O,.7);ln(1024,393,1060,393,O,.5);ln(1025,393,1025,402,O);
 ln(1373.7,391.4,1412,391.4,O,.7);ln(1373.7,393,1412,393,O,.5);ln(1411,393,1411,402,O);
 ln(1017,398,1395,398,G,.4);}
// ===== build =====
dimsL(54,0);dimsR(850,0);dimsL(917,0);dimsR(1503,0);
dimsL(45,564.5);dimsR(845,564.5);dimsL(917,564.5);dimsR(1503,564.5);
g('translate(0,0)');frontA();ge();g('translate(296,0)');frontA();ge();
g('translate(0,564.5)');frontB();ge();g('translate(296,564.5)');frontB();ge();
ln(448,309,448,402,O,.5);ln(448,873.5,448,966.5,O,.5);
side();
g('translate(2435.5,564.5) scale(-1,1)');side();ge();
// TR leaders
mark(1169,80.5,1143,1203);
ln(1185,88,1225,88,G);ln(1185,88,1185,344,G);
ln(1240,99,1276,99,G);ln(1242,99,1242,306,G);
ln(1299,99,1335,99,G);ln(1299.3,99,1299.3,220,G);
ln(1204,108,1242,108,G);
mark(1370,126.3,1363,1405);ln(1315,126.3,1377,126.3,G);
mark(1375.4,148,1368,1409);ln(1320,148,1377,148,G);
mark(1112.5,306.5,1105,1146);
mark(1404,286,1397,1437);ln(1380,286,1412,286,G);
mark(1396,391.4,1389,1430);
ln(1001,317.8,1045,317.8,G);ln(999,397.5,1024,397.5,G);
// BR leaders
g('translate(0,564.5)');
mark(1266.4,80.6,1239,1289);
ln(1219,88,1253,88,G);ln(1251,88,1251,344,G);
ln(1104,99,1137,99,G);ln(1136.7,99,1136.7,220,G);
ln(1161,99,1196,99,G);ln(1194,99,1194,305,G);
ln(1196,108,1232,108,G);
mark(1065,126,1035,1072);ln(1059,126,1120,126,G);
mark(1060.5,148,1031,1067);ln(1060,148,1116,148,G);
mark(1031,285.8,1001,1038);ln(1024,286,1054,286,G);
mark(1323,306.5,1293,1330);
mark(1039,391.7,1010,1046);
ln(1390,317,1432,317,G);ln(1410,397.5,1440,397.5,G);
ge();
// ground bars
out+='<rect x="143" y="402" width="638" height="4.2" fill="#000"/>';
out+='<rect x="1007" y="402" width="422" height="4.2" fill="#000"/>';
out+='<rect x="134" y="966.5" width="639" height="4.2" fill="#000"/>';
out+='<rect x="1007" y="966.5" width="422" height="4.2" fill="#000"/>';
// axes
axis(191,452);axis(709,452);axis(1066,452);axis(1370,452);
axis(191,1016.5);axis(709,1016.5);axis(1066,1016.5);axis(1370,1016.5);
document.getElementById('geo').innerHTML=out;
})();
</script>
</body></html>
